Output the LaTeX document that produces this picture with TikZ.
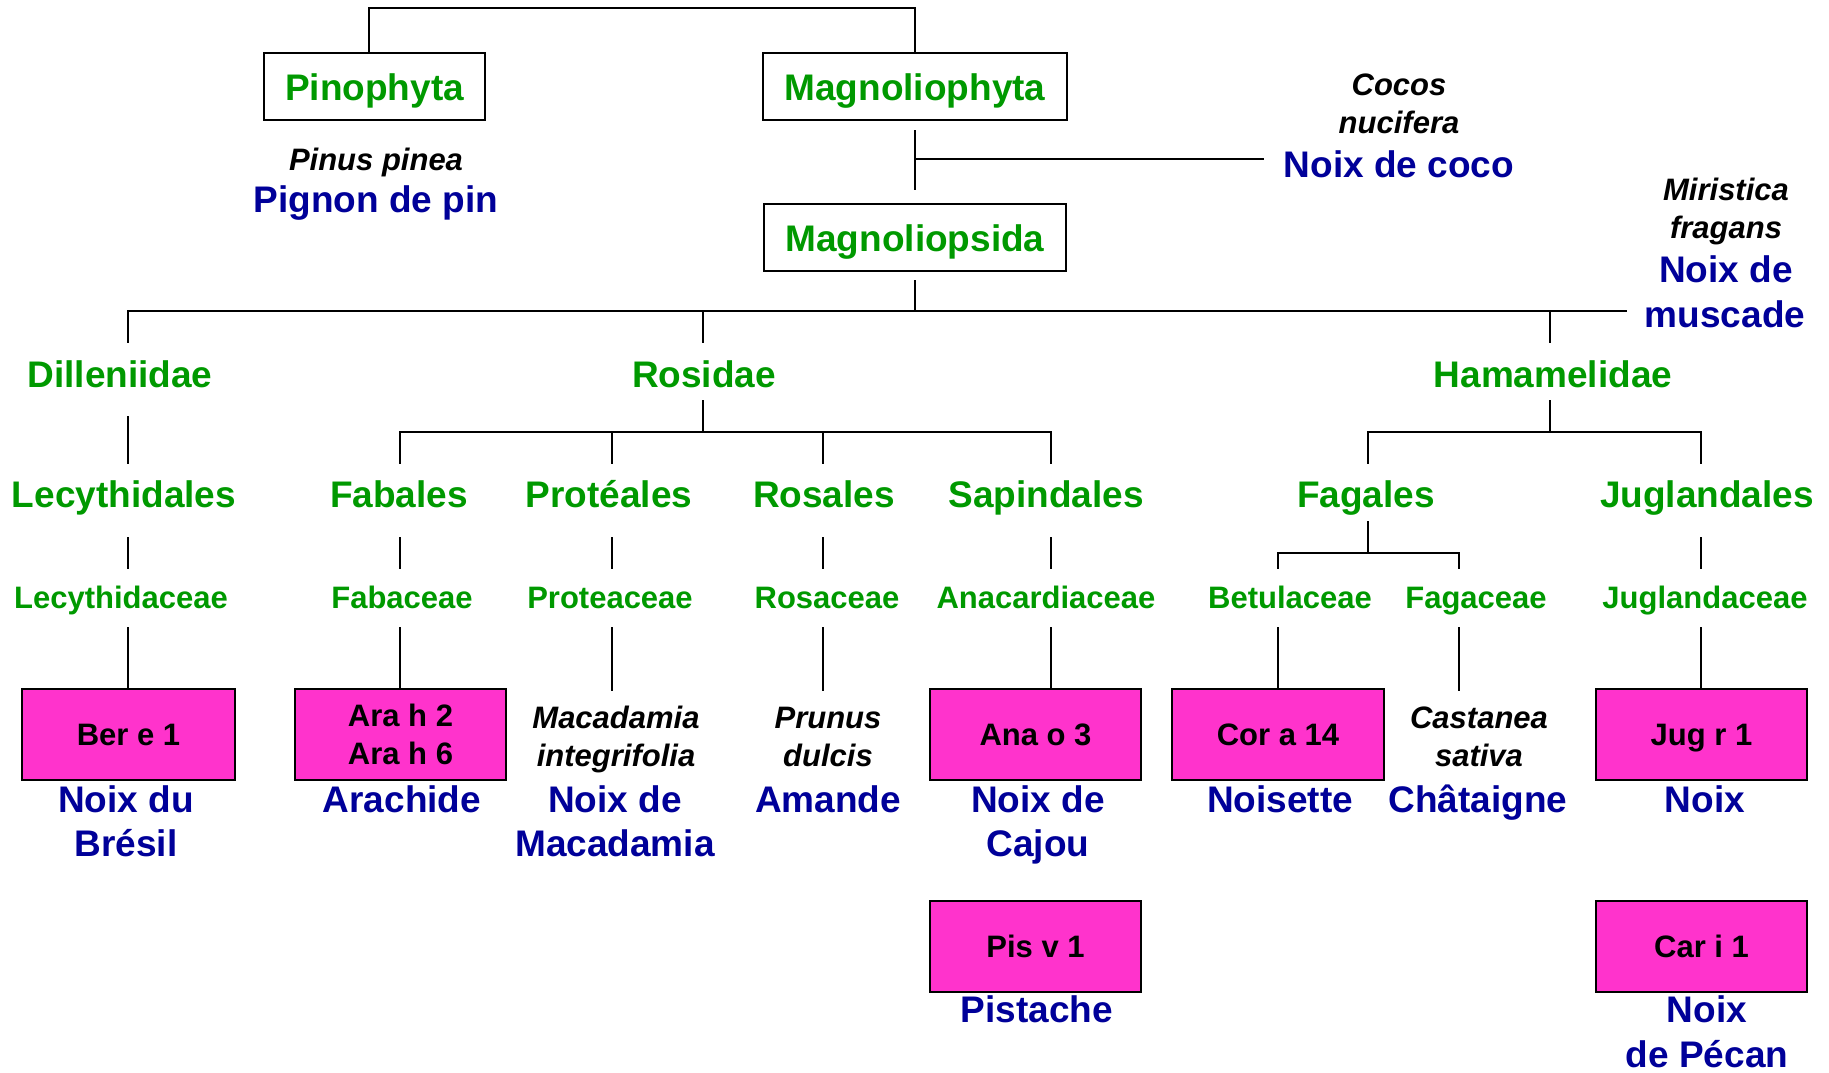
\documentclass[tikz,border=0pt]{standalone}
\usepackage{fontspec}
\setmainfont{Liberation Sans}
\definecolor{tgreen}{RGB}{0,153,0}
\definecolor{tblue}{RGB}{0,0,153}
\definecolor{tpink}{RGB}{255,51,204}
\begin{document}
\begin{tikzpicture}[x=1pt,y=-1pt,
 ln/.style={line width=2pt, draw=black, line cap=rect},
 gL/.style={anchor=base, inner sep=0pt, text=tgreen, font=\fontsize{37}{45}\selectfont\bfseries, text height=27pt, text depth=8pt},
 gS/.style={anchor=base, inner sep=0pt, text=tgreen, font=\fontsize{31}{38}\selectfont\bfseries, text height=23pt, text depth=7pt},
 spc/.style={anchor=base, inner sep=0pt, text=black, font=\fontsize{31}{38}\selectfont\bfseries\itshape, text height=23pt, text depth=7pt},
 cn/.style={anchor=base, inner sep=0pt, text=tblue, font=\fontsize{37}{45}\selectfont\bfseries, text height=27pt, text depth=8pt},
 hdr/.style={draw=black, line width=2pt, inner sep=0pt, minimum height=67pt, text=tgreen, font=\fontsize{37}{45}\selectfont\bfseries, text height=27pt, text depth=0pt},
 alg/.style={draw=black, fill=tpink, line width=2pt, inner sep=0pt, minimum width=211pt, minimum height=91pt, font=\fontsize{31}{38}\selectfont\bfseries, align=center},
 alg1/.style={alg, text depth=0pt},
]
\useasboundingbox (0,0) rectangle (1829,1072);

% column and bar coordinates
\coordinate (cDil) at (128,0);
\coordinate (cFab) at (400,0);
\coordinate (cPro) at (612,0);
\coordinate (cRos) at (823,0);
\coordinate (cSap) at (1051,0);
\coordinate (cBet) at (1278,0);
\coordinate (cFag) at (1459,0);
\coordinate (cFgl) at (1368,0);
\coordinate (cJug) at (1701,0);
\coordinate (cHam) at (1550,0);
\coordinate (cRsd) at (703,0);
\coordinate (yco) at (0,159);
\coordinate (yb1) at (0,311);
\coordinate (yb2) at (0,432);
\coordinate (yb3) at (0,553);

% top
\node[hdr, minimum width=221pt] (pino) at (374.5,86.5) {Pinophyta};
\node[hdr, minimum width=304pt] (magphy) at (915,86.5) {Magnoliophyta};
\node[hdr, minimum width=302pt] (magsida) at (915,237.5) {Magnoliopsida};
\node[spc] (pinus) at (376,170) {Pinus pinea};
\node[cn] (pignon) at (376,212) {Pignon de pin};
\node[spc] (cocos) at (1399,95) {Cocos};
\node[spc] (nucif) at (1399,133) {nucifera};
\node[cn] (coco) at (1399,177) {Noix de coco};
\node[spc] (miri) at (1726,200) {Miristica};
\node[spc] (frag) at (1726,238) {fragans};
\node[cn] (muscA) at (1726,282) {Noix de};
\node[cn] (muscB) at (1725,327) {muscade};

% level 2
\node[gL] (dill) at (120,387) {Dilleniidae};
\node[gL] (ros) at (704,387) {Rosidae};
\node[gL] (ham) at (1553,387) {Hamamelidae};

% level 3
\node[gL] (lecy) at (124,507) {Lecythidales};
\node[gL] (fab) at (399,507) {Fabales};
\node[gL] (prot) at (609,507) {Protéales};
\node[gL] (rosa) at (824,507) {Rosales};
\node[gL] (sapi) at (1046,507) {Sapindales};
\node[gL] (fag) at (1366,507) {Fagales};
\node[gL] (jug) at (1707,507) {Juglandales};

% level 4
\node[gS] (lecyf) at (121,608) {Lecythidaceae};
\node[gS] (fabf) at (402,608) {Fabaceae};
\node[gS] (protf) at (610,608) {Proteaceae};
\node[gS] (rosaf) at (827,608) {Rosaceae};
\node[gS] (anaf) at (1046,608) {Anacardiaceae};
\node[gS] (betf) at (1290,608) {Betulaceae};
\node[gS] (fagf) at (1476,608) {Fagaceae};
\node[gS] (jugf) at (1705,608) {Juglandaceae};

% allergen boxes
\node[alg1, minimum width=213pt] (ber) at (128.5,734.5) {Ber e 1};
\node[alg] (ara) at (400.5,734.5) {Ara h 2\\Ara h 6};
\node[alg1] (anab) at (1035.5,734.5) {Ana o 3};
\node[alg1, minimum width=212pt] (cor) at (1278,734.5) {Cor a 14};
\node[alg1] (jugb) at (1701.5,734.5) {Jug r 1};
\node[alg1] (pis) at (1035.5,946.5) {Pis v 1};
\node[alg1] (car) at (1701.5,946.5) {Car i 1};

% species
\node[spc] (maca1) at (616,728) {Macadamia};
\node[spc] (maca2) at (616,766) {integrifolia};
\node[spc] (pru1) at (828,728) {Prunus};
\node[spc] (pru2) at (828,766) {dulcis};
\node[spc] (cas1) at (1479,728) {Castanea};
\node[spc] (cas2) at (1479,766) {sativa};

% common names
\node[cn] (bresA) at (126,812) {Noix du};
\node[cn] (bresB) at (126,856) {Brésil};
\node[cn] (arach) at (402,812) {Arachide};
\node[cn] (macA) at (615,812) {Noix de};
\node[cn] (macB) at (615,856) {Macadamia};
\node[cn] (amande) at (828,812) {Amande};
\node[cn] (cajA) at (1038,812) {Noix de};
\node[cn] (cajB) at (1038,856) {Cajou};
\node[cn] (noisette) at (1280,812) {Noisette};
\node[cn] (chat) at (1478,812) {Châtaigne};
\node[cn] (noix) at (1705,812) {Noix};
\node[cn] (pista) at (1037,1022) {Pistache};
\node[cn] (pecA) at (1707,1022) {Noix};
\node[cn] (pecB) at (1707,1067) {de Pécan};

% connectors: top
\draw[ln] ([xshift=-5.5pt]pino.north) -- ++(0,-44) -| (magphy.north);
\draw[ln, shorten <=10pt, shorten >=14pt] (magphy.south) -- (magsida.north);
\draw[ln, shorten >=21pt] (magphy.south |- yco) -- (coco.west |- yco);
\draw[ln, shorten <=9pt] (magsida.south) -- (magsida.south |- yb1);
\draw[ln, shorten >=19pt] (cDil |- yb1) -- (muscB.west |- yb1);
\draw[ln, shorten >=18pt] (cDil |- yb1) -- (cDil |- dill.north);
\draw[ln, shorten >=18pt] (cRsd |- yb1) -- (cRsd |- ros.north);
\draw[ln, shorten >=18pt] (cHam |- yb1) -- (cHam |- ham.north);

% Dilleniidae
\draw[ln, shorten <=22pt, shorten >=17pt] (cDil |- dill.south) -- (cDil |- lecy.north);
\draw[ln, shorten <=23pt, shorten >=17pt] (cDil |- lecy.south) -- (cDil |- lecyf.north);
\draw[ln, shorten <=13pt] (cDil |- lecyf.south) -- (cDil |- ber.north);

% Rosidae
\draw[ln, shorten <=6pt] (cRsd |- ros.south) -- (cRsd |- yb2);
\draw[ln] (cFab |- yb2) -- (cSap |- yb2);
\foreach \c/\a/\b in {cFab/fab/fabf, cPro/prot/protf, cRos/rosa/rosaf, cSap/sapi/anaf} {
  \draw[ln, shorten >=17pt] (\c |- yb2) -- (\c |- \a.north);
  \draw[ln, shorten <=23pt, shorten >=17pt] (\c |- \a.south) -- (\c |- \b.north);
}
\draw[ln, shorten <=13pt] (cFab |- fabf.south) -- (cFab |- ara.north);
\draw[ln, shorten <=13pt, shorten >=15pt] (cPro |- protf.south) -- (cPro |- maca1.north);
\draw[ln, shorten <=13pt, shorten >=15pt] (cRos |- rosaf.south) -- (cRos |- pru1.north);
\draw[ln, shorten <=13pt] (cSap |- anaf.south) -- (cSap |- anab.north);

% Hamamelidae
\draw[ln, shorten <=6pt] (cHam |- ham.south) -- (cHam |- yb2);
\draw[ln] (cFgl |- yb2) -- (cJug |- yb2);
\draw[ln, shorten >=17pt] (cFgl |- yb2) -- (cFgl |- fag.north);
\draw[ln, shorten >=17pt] (cJug |- yb2) -- (cJug |- jug.north);
\draw[ln, shorten <=7pt] (cFgl |- fag.south) -- (cFgl |- yb3);
\draw[ln] (cBet |- yb3) -- (cFag |- yb3);
\draw[ln, shorten >=17pt] (cBet |- yb3) -- (cBet |- betf.north);
\draw[ln, shorten >=17pt] (cFag |- yb3) -- (cFag |- fagf.north);
\draw[ln, shorten <=23pt, shorten >=17pt] (cJug |- jug.south) -- (cJug |- jugf.north);
\draw[ln, shorten <=13pt] (cBet |- betf.south) -- (cBet |- cor.north);
\draw[ln, shorten <=13pt, shorten >=15pt] (cFag |- fagf.south) -- (cFag |- cas1.north);
\draw[ln, shorten <=13pt] (cJug |- jugf.south) -- (cJug |- jugb.north);
\end{tikzpicture}
\end{document}
